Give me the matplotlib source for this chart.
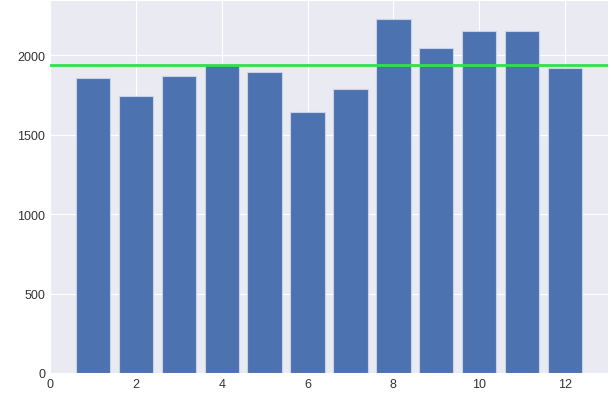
import matplotlib
matplotlib.use("Agg")
import matplotlib.pyplot as plt

months = [1, 2, 3, 4, 5, 6, 7, 8, 9, 10, 11, 12]
values = [1856, 1744, 1869, 1944, 1894, 1644, 1787, 2229, 2042, 2152, 2152, 1917]
mean_value = 1940


def main() -> None:
    plt.style.use("seaborn-v0_8-darkgrid")
    plt.rcParams["font.family"] = ["Liberation Sans", "DejaVu Sans"]

    fig = plt.figure(figsize=(6.11, 4.14), dpi=100)
    ax = fig.add_axes([50 / 611, 1 - 374 / 414, 558 / 611, 372 / 414])
    ax.bar(months, values, width=0.8, color="#4C72B0", edgecolor="#c8d2e6", linewidth=0.8)
    ax.axhline(mean_value, color="#33e04a", linewidth=2)
    ax.set_xlim(0, 13)
    ax.set_ylim(0, max(values) * 1.05)
    ax.tick_params(labelsize=9, colors="#333333")
    fig.savefig("out.png", dpi=100)


if __name__ == "__main__":
    main()
